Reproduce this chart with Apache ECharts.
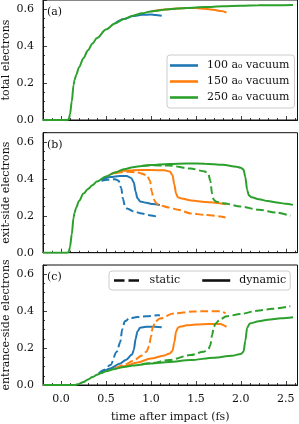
<!DOCTYPE html>
<html><head><meta charset="utf-8">
<script src="https://cdn.jsdelivr.net/npm/echarts@6/dist/echarts.min.js"></script>
<style>html,body{margin:0;padding:0;background:#fff}#c{width:299px;height:424px}</style>
</head><body><div id="c"></div>
<script>
// ---------- data ----------
const sizeNames = ['100 a\u2080 vacuum', '150 a\u2080 vacuum', '250 a\u2080 vacuum'];
const modeNames = ['static', 'dynamic'];
const panelLabels = ['(a)', '(b)', '(c)'];
const yNames = ['total electrons', 'exit-side electrons', 'entrance-side electrons'];
const xName = 'time after impact (fs)';

// (a) total electrons
const a_blue_t = [0.6, 0.7, 0.8, 0.9, 1.0, 1.05, 1.12];
const a_blue_v = [0.523, 0.547, 0.563, 0.57, 0.571, 0.569, 0.565];
const a_orange_t = [1.0, 1.2, 1.3, 1.4, 1.5, 1.6, 1.7, 1.78, 1.84];
const a_orange_v = [0.588, 0.6, 0.604, 0.606, 0.606, 0.603, 0.597, 0.59, 0.582];
const a_green_t = [-0.2, 0.06, 0.085, 0.1, 0.12, 0.14, 0.15, 0.17, 0.2, 0.25, 0.3, 0.35, 0.4, 0.5, 0.6, 0.7, 0.8, 0.9, 1.0, 1.2, 1.4, 1.6, 1.8, 2.0, 2.2, 2.4, 2.58];
const a_green_v = [0, 0, 0.002, 0.03, 0.1, 0.19, 0.215, 0.245, 0.285, 0.335, 0.378, 0.414, 0.444, 0.49, 0.523, 0.547, 0.565, 0.578, 0.588, 0.6, 0.607, 0.612, 0.616, 0.619, 0.621, 0.622, 0.623];

// (b) exit-side electrons
const b_blue_static_t = [0.45, 0.52, 0.6, 0.64, 0.67, 0.69, 0.71, 0.74, 0.8, 0.9, 1.0, 1.07];
const b_blue_static_v = [0.39, 0.395, 0.398, 0.39, 0.35, 0.29, 0.255, 0.238, 0.225, 0.212, 0.202, 0.195];
const b_blue_dyn_t = [0.45, 0.55, 0.65, 0.73, 0.78, 0.81, 0.83, 0.85, 0.88, 0.95, 1.02, 1.1];
const b_blue_dyn_v = [0.395, 0.41, 0.416, 0.415, 0.405, 0.38, 0.33, 0.295, 0.278, 0.27, 0.264, 0.258];
const b_orange_static_t = [0.6, 0.73, 0.85, 0.955, 0.99, 1.01, 1.03, 1.06, 1.085, 1.2, 1.3, 1.44, 1.6, 1.83];
const b_orange_static_v = [0.43, 0.438, 0.435, 0.42, 0.39, 0.33, 0.29, 0.268, 0.258, 0.245, 0.233, 0.213, 0.205, 0.191];
const b_orange_dyn_t = [0.55, 0.7, 0.8, 1.0, 1.15, 1.21, 1.24, 1.26, 1.28, 1.3, 1.34, 1.45, 1.6, 1.84];
const b_orange_dyn_v = [0.425, 0.444, 0.447, 0.448, 0.446, 0.44, 0.42, 0.37, 0.32, 0.3, 0.294, 0.283, 0.275, 0.262];
const b_green_static_t = [0.9, 1.0, 1.2, 1.44, 1.6, 1.64, 1.66, 1.68, 1.7, 1.73, 1.8, 2.0, 2.2, 2.4, 2.55];
const b_green_static_v = [0.47, 0.474, 0.472, 0.456, 0.44, 0.425, 0.39, 0.32, 0.285, 0.276, 0.268, 0.25, 0.233, 0.217, 0.2];
const b_green_dyn_t = [-0.2, 0.06, 0.085, 0.1, 0.12, 0.14, 0.15, 0.17, 0.2, 0.25, 0.3, 0.35, 0.4, 0.5, 0.6, 0.7, 0.8, 0.9, 1.0, 1.2, 1.4, 1.6, 1.8, 1.95, 2.0, 2.03, 2.05, 2.07, 2.09, 2.12, 2.2, 2.3, 2.4, 2.5, 2.58];
const b_green_dyn_v = [0, 0, 0.002, 0.03, 0.1, 0.19, 0.215, 0.245, 0.28, 0.32, 0.345, 0.365, 0.385, 0.413, 0.434, 0.452, 0.463, 0.47, 0.475, 0.481, 0.483, 0.482, 0.476, 0.466, 0.46, 0.45, 0.41, 0.34, 0.31, 0.3, 0.29, 0.28, 0.272, 0.265, 0.259];

// (c) entrance-side electrons
const c_blue_static_t = [0.42, 0.47, 0.55, 0.62, 0.66, 0.68, 0.71, 0.76, 0.85, 0.95, 1.07, 1.1];
const c_blue_static_v = [0.062, 0.08, 0.108, 0.18, 0.234, 0.3, 0.345, 0.36, 0.368, 0.372, 0.378, 0.378];
const c_blue_dyn_t = [0.45, 0.55, 0.65, 0.72, 0.79, 0.81, 0.83, 0.85, 0.88, 0.95, 1.05, 1.12];
const c_blue_dyn_v = [0.066, 0.09, 0.115, 0.135, 0.165, 0.19, 0.25, 0.29, 0.31, 0.315, 0.316, 0.313];
const c_orange_static_t = [0.6, 0.7, 0.8, 0.9, 0.95, 0.98, 1.0, 1.02, 1.05, 1.1, 1.25, 1.47, 1.6, 1.77, 1.83];
const c_orange_static_v = [0.09, 0.108, 0.13, 0.16, 0.18, 0.21, 0.26, 0.31, 0.345, 0.36, 0.387, 0.398, 0.4, 0.399, 0.388];
const c_orange_dyn_t = [0.6, 0.7, 0.85, 1.0, 1.15, 1.21, 1.24, 1.26, 1.28, 1.3, 1.33, 1.4, 1.5, 1.65, 1.77, 1.84];
const c_orange_dyn_v = [0.088, 0.102, 0.122, 0.143, 0.16, 0.171, 0.185, 0.23, 0.29, 0.31, 0.317, 0.323, 0.328, 0.33, 0.33, 0.315];
const c_green_static_t = [0.9, 1.0, 1.2, 1.44, 1.585, 1.64, 1.66, 1.68, 1.7, 1.72, 1.76, 1.84, 2.0, 2.18, 2.35, 2.55];
const c_green_static_v = [0.112, 0.118, 0.135, 0.162, 0.18, 0.195, 0.215, 0.27, 0.315, 0.333, 0.352, 0.372, 0.385, 0.402, 0.413, 0.427];
const c_green_dyn_t = [-0.2, 0.15, 0.2, 0.25, 0.3, 0.35, 0.4, 0.45, 0.5, 0.6, 0.7, 0.8, 1.0, 1.2, 1.44, 1.7, 1.9, 2.0, 2.03, 2.05, 2.07, 2.1, 2.2, 2.3, 2.45, 2.58];
const c_green_dyn_v = [0, 0, 0.006, 0.016, 0.03, 0.043, 0.055, 0.065, 0.074, 0.087, 0.098, 0.106, 0.117, 0.125, 0.135, 0.148, 0.158, 0.168, 0.18, 0.24, 0.31, 0.333, 0.345, 0.353, 0.361, 0.367];

const xTicks = [0.0, 0.5, 1.0, 1.5, 2.0, 2.5];
const xMinorTicks = [-0.1, 0.1, 0.2, 0.3, 0.4, 0.6, 0.7, 0.8, 0.9, 1.1, 1.2, 1.3, 1.4, 1.6, 1.7, 1.8, 1.9, 2.1, 2.2, 2.3, 2.4, 2.6];
const yTicks = [0.0, 0.2, 0.4, 0.6];

// ---------- chart ----------
const colors = ['#1f77b4', '#ff7f0e', '#2ca02c'];
const FONT = 'DejaVu Serif';
const FS = 11;
const gridTops = [0, 132.7, 265];
const gridH = 120;
const AX = '#111';

const chart = echarts.init(document.getElementById('c'), null, {renderer: 'canvas'});

function zip(t, v) { return t.map((x, i) => [x, v[i]]); }
function S(name, t, v, color, dashed, gi, z) {
  return {
    type: 'line', name: name, xAxisIndex: 2 * gi, yAxisIndex: gi,
    data: zip(t, v), symbol: 'none', showSymbol: false,
    smooth: 0.3, smoothMonotone: 'x', z: z,
    lineStyle: {color: color, width: 2, type: dashed ? [8, 3.5] : 'solid', cap: 'butt'},
    itemStyle: {color: color}, silent: true, animation: false
  };
}

const grids = gridTops.map(t => ({left: 43, right: 1.5, top: t, height: gridH, show: true,
  borderColor: AX, borderWidth: 1, backgroundColor: 'transparent',
  containLabel: false, outerBoundsMode: 'none'}));

const xAxes = [];
const yAxes = [];
gridTops.forEach((t, i) => {
  xAxes.push({
    gridIndex: i, type: 'value', min: -0.2, max: 2.63, position: 'bottom',
    splitLine: {show: false},
    axisLine: {show: true, onZero: false, lineStyle: {color: AX, width: 1}},
    axisTick: {show: true, inside: true, length: 4, lineStyle: {color: AX, width: 0.8}, customValues: xTicks},
    minorTick: {show: false},
    axisLabel: {show: i === 2, customValues: xTicks, margin: 9, fontFamily: FONT, fontSize: FS, color: AX,
      formatter: v => v.toFixed(1)},
    name: i === 2 ? xName : '', nameLocation: 'middle', nameGap: 27, nameMoveOverlap: false,
    nameTextStyle: {fontFamily: FONT, fontSize: FS, color: AX}
  });
  xAxes.push({
    gridIndex: i, type: 'value', min: -0.2, max: 2.63, position: 'bottom',
    splitLine: {show: false},
    axisLine: {show: false, onZero: false},
    axisTick: {show: true, inside: true, length: 2, lineStyle: {color: AX, width: 0.8}, customValues: xMinorTicks},
    axisLabel: {show: false}
  });
  yAxes.push({
    gridIndex: i, type: 'value', min: 0, max: 0.65, interval: 0.2,
    splitLine: {show: false},
    axisLine: {show: true, onZero: false, lineStyle: {color: AX, width: 1}},
    axisTick: {show: true, inside: true, length: 4, lineStyle: {color: AX, width: 0.8}},
    minorTick: {show: true, splitNumber: 4, length: 2, lineStyle: {color: AX, width: 0.8}},
    axisLabel: {show: true, margin: 9, fontFamily: FONT, fontSize: FS, color: AX,
      showMaxLabel: false, formatter: v => v.toFixed(1)},
    name: yNames[i], nameLocation: 'middle', nameGap: 31, nameMoveOverlap: false,
    nameTextStyle: {fontFamily: FONT, fontSize: FS, color: AX}
  });
});

const series = [
  S(sizeNames[0], a_blue_t, a_blue_v, colors[0], false, 0, 2),
  S(sizeNames[1], a_orange_t, a_orange_v, colors[1], false, 0, 3),
  S(sizeNames[2], a_green_t, a_green_v, colors[2], false, 0, 4),

  S('b_blue_s', b_blue_static_t, b_blue_static_v, colors[0], true, 1, 2),
  S('b_blue_d', b_blue_dyn_t, b_blue_dyn_v, colors[0], false, 1, 2),
  S('b_orange_s', b_orange_static_t, b_orange_static_v, colors[1], true, 1, 3),
  S('b_orange_d', b_orange_dyn_t, b_orange_dyn_v, colors[1], false, 1, 3),
  S('b_green_s', b_green_static_t, b_green_static_v, colors[2], true, 1, 4),
  S('b_green_d', b_green_dyn_t, b_green_dyn_v, colors[2], false, 1, 4),

  S('c_blue_s', c_blue_static_t, c_blue_static_v, colors[0], true, 2, 2),
  S('c_blue_d', c_blue_dyn_t, c_blue_dyn_v, colors[0], false, 2, 2),
  S('c_orange_s', c_orange_static_t, c_orange_static_v, colors[1], true, 2, 3),
  S('c_orange_d', c_orange_dyn_t, c_orange_dyn_v, colors[1], false, 2, 3),
  S('c_green_s', c_green_static_t, c_green_static_v, colors[2], true, 2, 4),
  S('c_green_d', c_green_dyn_t, c_green_dyn_v, colors[2], false, 2, 4),

  S(modeNames[0], [], [], AX, true, 2, 1),
  S(modeNames[1], [], [], AX, false, 2, 1)
];

const ICON_SOLID = 'path://M0,0H28V2.6H0Z';
const ICON_DASH = 'path://M0,0H10.5V2.6H0ZM14.5,0H25V2.6H14.5Z';

const legendCommon = {
  itemWidth: 28, itemHeight: 2.6,
  textStyle: {fontFamily: FONT, fontSize: FS, color: AX, padding: [0, 0, 0, 4]},
  borderColor: '#cccccc', borderWidth: 1, borderRadius: 3,
  backgroundColor: 'rgba(255,255,255,0.85)',
  selectedMode: false
};

const option = {
  animation: false,
  backgroundColor: '#fff',
  grid: grids,
  xAxis: xAxes,
  yAxis: yAxes,
  legend: [
    Object.assign({}, legendCommon, {
      data: sizeNames.map((n, k) => ({name: n, icon: ICON_SOLID, itemStyle: {color: colors[k]}})),
      orient: 'vertical', left: 167, top: 55, itemGap: 5, padding: [5, 5, 5, 3]}),
    Object.assign({}, legendCommon, {
      data: [{name: modeNames[0], icon: ICON_DASH, itemStyle: {color: AX}}, {name: modeNames[1], icon: ICON_SOLID, itemStyle: {color: AX}}],
      orient: 'horizontal', left: 109, top: 271, itemGap: 22, padding: [4, 4, 4, 5]})
  ],
  graphic: panelLabels.map((l, i) => ({
    type: 'text', left: 47, top: gridTops[i] + 7,
    style: {text: l, font: FS + 'px "' + FONT + '"', fill: AX}
  })),
  series: series
};
chart.setOption(option);
</script>
</body></html>
